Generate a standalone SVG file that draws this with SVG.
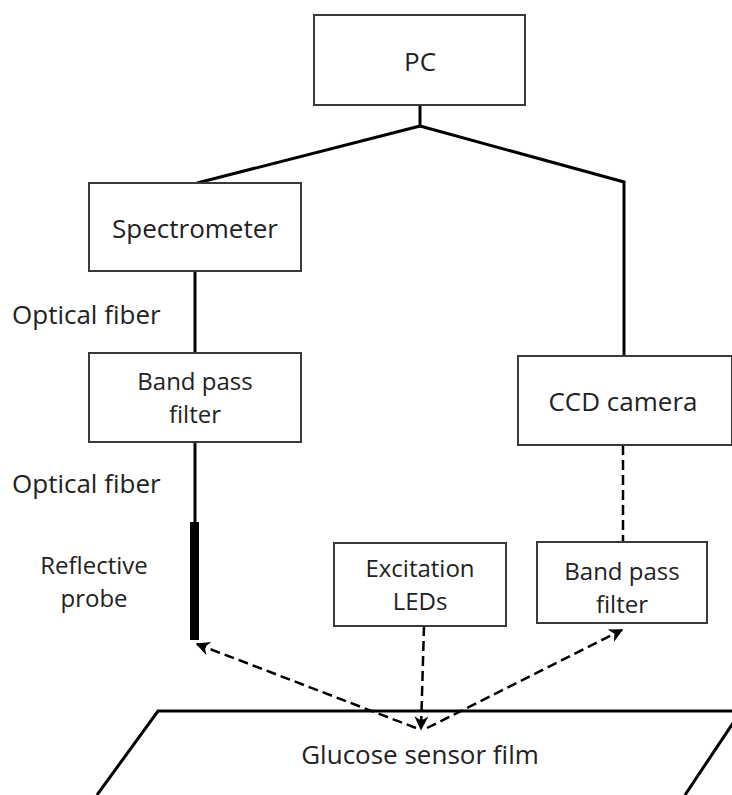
<svg xmlns="http://www.w3.org/2000/svg" width="732" height="795" viewBox="0 0 732 795">
<defs>
<style>
.box{fill:#fff;stroke:#3a3a3a;stroke-width:2}
.t{font-family:"Open Sans","Noto Sans",sans-serif;font-size:26px;fill:#222;text-anchor:middle}
.t2{font-family:"Open Sans","Noto Sans",sans-serif;font-size:24px;fill:#222;text-anchor:middle}
.tl{font-family:"Open Sans","Noto Sans",sans-serif;font-size:26px;fill:#222}
.solid{fill:none;stroke:#000;stroke-width:3}
.dash{fill:none;stroke:#000;stroke-width:2.5;stroke-dasharray:10 5}
</style>
<marker id="ah2" viewBox="0 0 10 10" refX="9" refY="5" markerWidth="16" markerHeight="14" markerUnits="userSpaceOnUse" orient="auto">
<path d="M0,0 L10,5 L0,10 L3,5 Z" fill="#000"/>
</marker>
</defs>
<g id="connectors">
<polyline class="solid" points="420,105 420,126 197,183"/>
<polyline class="solid" points="420,126 624,182 624,356"/>
<line class="solid" x1="195" y1="271" x2="195" y2="353"/>
<line class="solid" x1="195" y1="442" x2="195" y2="524"/>
<line class="dash" x1="623" y1="445" x2="623" y2="541"/>
<line class="dash" x1="424" y1="626" x2="421" y2="729" marker-end="url(#ah2)"/>
<line class="dash" x1="416" y1="728" x2="197" y2="644" marker-end="url(#ah2)"/>
<line class="dash" x1="427" y1="728" x2="622" y2="630" marker-end="url(#ah2)"/>
</g>
<g id="pc"><rect class="box" x="314" y="15" width="211" height="90"/><text class="t" x="420" y="71">PC</text></g>
<g id="spectrometer"><rect class="box" x="89" y="183" width="212" height="88"/><text class="t" x="195" y="238">Spectrometer</text></g>
<g id="label-fiber1"><text class="tl" x="12" y="324">Optical fiber</text></g>
<g id="bpf-left"><rect class="box" x="89" y="353" width="212" height="89"/><text class="t2" x="195" y="390">Band pass</text><text class="t2" x="195" y="423">filter</text></g>
<g id="label-fiber2"><text class="tl" x="12" y="493">Optical fiber</text></g>
<g id="probe"><rect x="190" y="522" width="9" height="118" fill="#000"/><text class="t2" x="94" y="574">Reflective</text><text class="t2" x="94" y="607">probe</text></g>
<g id="ccd"><rect class="box" x="518" y="356" width="214" height="89"/><text class="t" x="623" y="411">CCD camera</text></g>
<g id="leds"><rect class="box" x="334" y="543" width="172" height="83"/><text class="t2" x="420" y="577">Excitation</text><text class="t2" x="420" y="610">LEDs</text></g>
<g id="bpf-right"><rect class="box" x="537" y="542" width="170" height="81"/><text class="t2" x="622" y="580">Band pass</text><text class="t2" x="622" y="613">filter</text></g>
<g id="film">
<polyline fill="none" stroke="#000" stroke-width="3" points="97,795 158,711 741,711"/>
<line stroke="#000" stroke-width="3" x1="741" y1="711" x2="685" y2="795"/>
<text class="t" x="420" y="764">Glucose sensor film</text>
</g>
</svg>
